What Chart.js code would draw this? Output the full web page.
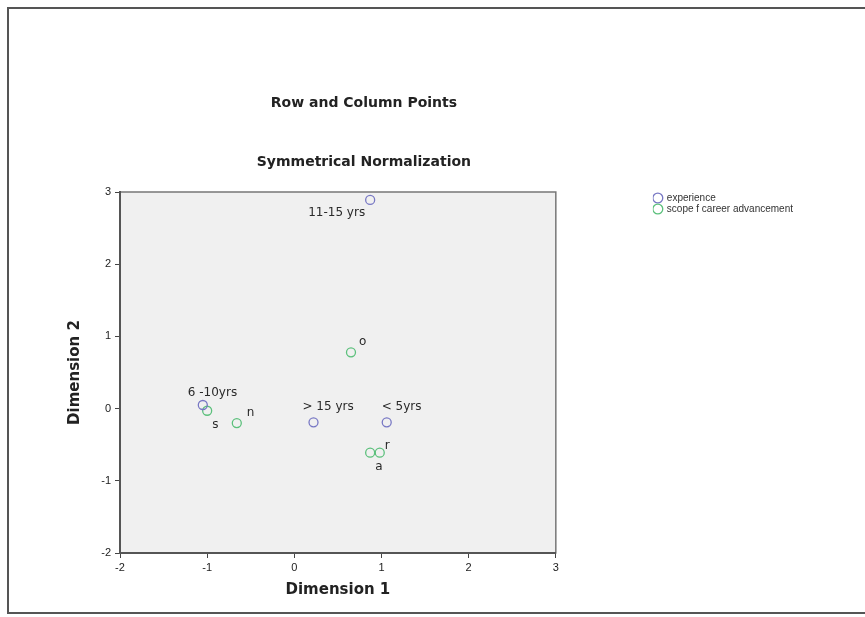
<!DOCTYPE html>
<html>
<head>
<meta charset="utf-8">
<script src="https://cdn.jsdelivr.net/npm/chart.js@4"></script>
<style>
  body { margin: 0; background: #fff; }
  #wrap { position: relative; width: 865px; height: 617px; overflow: hidden; }
  #frame { position: absolute; left: 7px; top: 7px; width: 900px; height: 607px; border: 2px solid #555; box-sizing: border-box; }
  canvas { position: absolute; left: 0; top: 0; }
</style>
</head>
<body>
<div id="wrap">
  <div id="frame"></div>
  <canvas id="chart" width="865" height="617"></canvas>
</div>
<script>
// category points: experience (row) and scope f career advancement (column)
const experienceLabels = ["11-15 yrs", "6 -10yrs", "> 15 yrs", "< 5yrs"];
const experienceX = [0.87, -1.05, 0.22, 1.06];
const experienceY = [2.89, 0.05, -0.19, -0.19];

const scopeLabels = ["o", "s", "n", "r", "a"];
const scopeX = [0.65, -1.0, -0.66, 0.98, 0.87];
const scopeY = [0.78, -0.03, -0.2, -0.61, -0.61];

const xTicks = [-2, -1, 0, 1, 2, 3];
const yTicks = [-2, -1, 0, 1, 2, 3];

// where each point label sits relative to its marker (pixels)
const labelPlace = {
    "11-15 yrs": { dx: -5, dy: 13, align: "right" },
    "6 -10yrs": { dx: -15, dy: -12, align: "left" },
    "> 15 yrs": { dx: -11, dy: -15, align: "left" },
    "< 5yrs": { dx: -5, dy: -15, align: "left" },
    "o": { dx: 8, dy: -10, align: "left" },
    "s": { dx: 5, dy: 14, align: "left" },
    "n": { dx: 10, dy: -10, align: "left" },
    "r": { dx: 5, dy: -7, align: "left" },
    "a": { dx: 5, dy: 14, align: "left" },
};

const titleFont = "bold 14px 'DejaVu Sans'";

const plotBox = {
    id: "plotBox",
    beforeDraw(chart) {
        const { ctx, chartArea: a } = chart;
        ctx.save();
        ctx.fillStyle = "#f0f0f0";
        ctx.fillRect(a.left, a.top, a.width, a.height);
        ctx.strokeStyle = "#777";
        ctx.lineWidth = 1.5;
        ctx.strokeRect(a.left, a.top, a.width, a.height);
        ctx.restore();
    },
    afterDraw(chart) {
        const { ctx, chartArea: a } = chart;
        const cx = a.left + a.width / 2 + 26;
        ctx.save();
        ctx.fillStyle = "#222";
        ctx.font = titleFont;
        ctx.textAlign = "center";
        ctx.textBaseline = "middle";
        ctx.fillText("Row and Column Points", cx, 103);
        ctx.fillText("Symmetrical Normalization", cx, 162);
        ctx.restore();
    },
};

const pointLabels = {
    id: "pointLabels",
    afterDatasetsDraw(chart) {
        const { ctx } = chart;
        ctx.save();
        ctx.fillStyle = "#2a2a2a";
        ctx.font = "12px 'DejaVu Sans'";
        ctx.textBaseline = "middle";
        chart.data.datasets.forEach((ds, di) => {
            const meta = chart.getDatasetMeta(di);
            meta.data.forEach((pt, i) => {
                const name = ds.names[i];
                const p = labelPlace[name];
                ctx.textAlign = p.align;
                ctx.fillText(name, pt.x + p.dx, pt.y + p.dy);
            });
        });
        ctx.restore();
    },
};

const ctx = document.getElementById("chart");
const chart = new Chart(ctx, {
    type: "scatter",
    data: {
        datasets: [
            {
                label: "experience",
                names: experienceLabels,
                data: experienceX.map((x, i) => ({ x: x, y: experienceY[i] })),
                borderColor: "#7878c4",
                backgroundColor: "rgba(0,0,0,0)",
                borderWidth: 1.3,
                pointRadius: 4.5,
                pointStyle: "circle",
            },
            {
                label: "scope f career advancement",
                names: scopeLabels,
                data: scopeX.map((x, i) => ({ x: x, y: scopeY[i] })),
                borderColor: "#5cc07c",
                backgroundColor: "rgba(0,0,0,0)",
                borderWidth: 1.3,
                pointRadius: 4.5,
                pointStyle: "circle",
            },
        ],
    },
    options: {
        responsive: false,
        animation: false,
        layout: { padding: { top: 192, left: 60, right: 62, bottom: 0 } },
        plugins: {
            tooltip: { enabled: false },
            legend: {
                position: "right",
                align: "start",
                maxWidth: 170,
                labels: {
                    usePointStyle: true,
                    boxWidth: 8,
                    boxHeight: 7,
                    padding: 1,
                    color: "#333",
                    font: { size: 10, family: "'Liberation Sans'" },
                },
            },
        },
        scales: {
            x: {
                type: "linear",
                min: -2,
                max: 3,
                afterBuildTicks: (s) => { s.ticks = xTicks.map((v) => ({ value: v })); },
                afterFit: (s) => { s.height = 64; },
                grid: { drawOnChartArea: false, tickLength: 5, color: "#444" },
                border: { color: "#555", width: 2 },
                ticks: { padding: 3, color: "#222", font: { size: 11, family: "'Liberation Sans'" } },
                title: {
                    display: true,
                    text: "Dimension 1",
                    color: "#222",
                    font: { size: 15, weight: "bold", family: "'DejaVu Sans'" },
                    padding: { top: 0, bottom: 18 },
                },
            },
            y: {
                type: "linear",
                min: -2,
                max: 3,
                afterBuildTicks: (s) => { s.ticks = yTicks.map((v) => ({ value: v })); },
                afterFit: (s) => { s.width = 60; },
                grid: { drawOnChartArea: false, tickLength: 5, color: "#444" },
                border: { color: "#555", width: 2 },
                ticks: { padding: 4, color: "#222", font: { size: 11, family: "'Liberation Sans'" } },
                title: {
                    display: true,
                    text: "Dimension 2",
                    color: "#222",
                    font: { size: 15, weight: "bold", family: "'DejaVu Sans'" },
                    padding: { top: 6, bottom: 0 },
                },
            },
            gap: {
                position: "right",
                display: true,
                grid: { display: false },
                ticks: { display: false },
                border: { display: false },
                afterFit: (s) => { s.width = 97; },
            },
        },
    },
    plugins: [plotBox, pointLabels],
});
</script>
</body>
</html>
